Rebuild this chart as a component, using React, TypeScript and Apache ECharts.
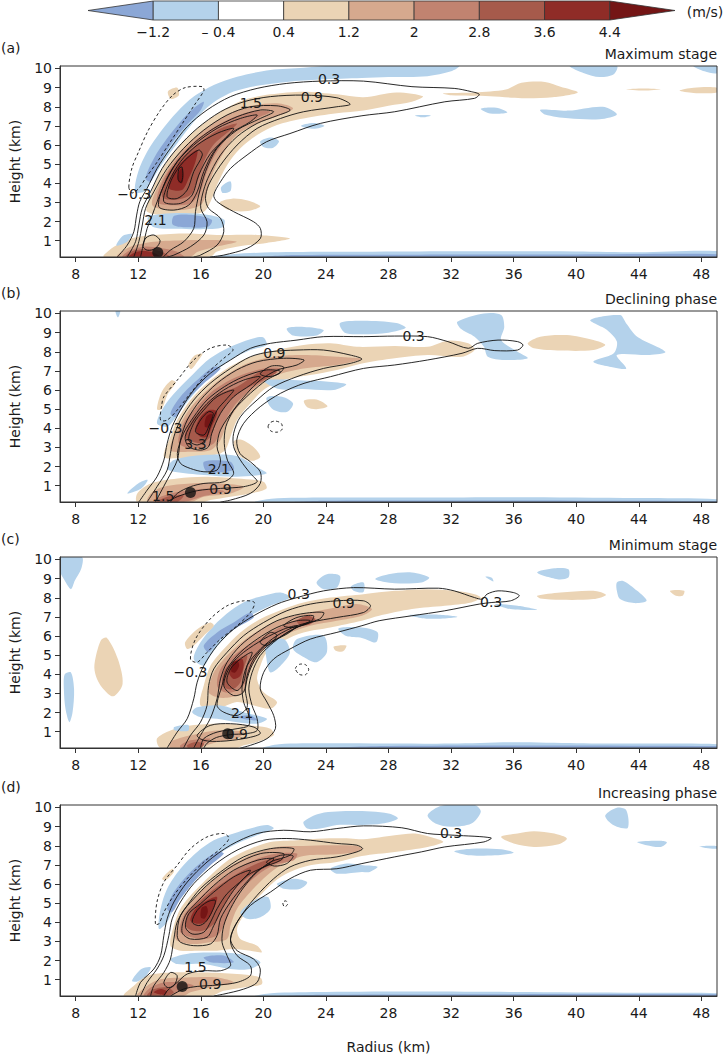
import * as echarts from 'echarts';
import React, { useEffect, useRef } from 'react';

type Pt = [number, number];
type Fill = [number, Pt[]];          // shading level, outline
type Contour = [number, boolean, Pt[]]; // contour value, closed?, path
type Label = [number, number, string];

// axes
const xTicks = [8, 12, 16, 20, 24, 28, 32, 36, 40, 44, 48];
const yTicks = [1, 2, 3, 4, 5, 6, 7, 8, 9, 10];
const panelTags = ['(a)', '(b)', '(c)', '(d)'];
const panelTitles = ['Maximum stage', 'Declining phase', 'Minimum stage', 'Increasing phase'];

// colour bar (m/s)
const colorTicks = [-1.2, -0.4, 0.4, 1.2, 2, 2.8, 3.6, 4.4];
const colorTickLabels = ['−1.2', '– 0.4', '0.4', '1.2', '2', '2.8', '3.6', '4.4'];
const shadeLevels = [-2, -1, 0, 1, 2, 3, 4, 5, 6];
const shadeColors = ['#8ba7d6', '#b4d2eb', '#ffffff', '#ebd4b5', '#d6a98e', '#c18370', '#a65a4b', '#8f2c27', '#741515'];
const barEnds = [-2, 5.2];

// ---------- (a) Maximum stage ----------
const fillsA: Fill[] = [
  [1, [[12.57,2.52],[12.79,3.39],[13.43,4.61],[14.49,5.83],[15.77,6.87],[17.26,7.74],[18.74,8.35],[20.45,8.65],[22.57,8.79],[24.7,8.65],[26.4,8.5],[28.5,8.75],[30.2,8.55],[29.5,8.26],[28,8.05],[26.4,7.8],[24.7,7.66],[22.57,7.39],[20.87,7.05],[19.6,6.52],[18.53,5.83],[17.68,4.95],[17.04,3.91],[16.62,3.04],[16.19,2.52],[14.49,2.34]]],
  [2, [[12.9,2.86],[13.43,4.08],[14.49,5.48],[15.77,6.52],[17.26,7.39],[18.96,8.0],[20.87,8.18],[21.9,7.92],[21.1,7.57],[19.6,7.13],[18.3,6.52],[17.5,5.65],[16.8,4.61],[16.4,3.56],[15.98,2.86],[14.5,2.6]]],
  [3, [[13.2,3.04],[13.64,4.26],[14.7,5.48],[15.98,6.44],[17.47,7.22],[19.17,7.74],[20.45,7.74],[19.6,7.39],[18.1,6.7],[17.04,5.65],[16.4,4.61],[15.98,3.56],[15.34,2.95],[14.06,2.86]]],
  [4, [[13.53,3.3],[13.85,4.43],[14.7,5.3],[15.98,6.17],[17.26,6.87],[18.32,7.13],[17.9,6.78],[16.8,6.0],[16.2,5.13],[15.77,4.08],[15.34,3.39],[14.28,3.13]]],
  [5, [[13.96,3.74],[14.28,4.61],[15.0,5.3],[15.77,5.74],[15.66,5.13],[15.23,4.26],[14.8,3.65]]],
  [6, [[14.55,4.1],[14.6,4.6],[14.8,4.8],[14.9,4.4],[14.8,4.0]]],
  [1, [[9.8,0.15],[9.8,0.25],[10.45,0.69],[11.5,1.12],[13.0,1.3],[15.13,1.38],[17.26,1.3],[19.6,1.3],[21.7,1.12],[20.0,0.86],[18.3,0.69],[17.0,0.43],[16.6,0.15]]],
  [2, [[10.66,0.15],[10.66,0.25],[11.5,0.69],[13.0,0.95],[15.1,1.03],[17.26,1.03],[18.3,0.95],[17.0,0.69],[15.8,0.43],[15.3,0.15]]],
  [3, [[11.0,0.15],[11.5,0.51],[12.36,0.69],[13.6,0.6],[14.5,0.43],[14.9,0.15]]],
  [4, [[11.2,0.15],[11.6,0.45],[12.4,0.55],[13.4,0.45],[14.0,0.15]]],
  [5, [[11.4,0.15],[11.9,0.43],[12.8,0.43],[13.4,0.15]]],
  [-1, [[11.8,3.56],[12.0,4.6],[12.57,5.65],[13.43,6.7],[14.5,7.74],[15.55,8.53],[16.83,9.14],[18.32,9.57],[20.45,9.92],[22.57,10.04],[24,10.13],[32.5,10.13],[32,9.85],[30.5,9.6],[28,9.55],[26.3,9.5],[23.64,9.42],[21.5,9.3],[19.6,9.1],[18.1,8.8],[17.04,8.35],[16.2,7.8],[15.34,7.0],[14.5,6.1],[13.6,5.1],[12.9,4.2],[12.36,3.56]]],
  [-2, [[12.47,4.26],[13.0,5.3],[13.85,6.35],[14.7,7.22],[15.55,7.92],[16.19,8.26],[16.0,7.83],[15.0,6.96],[14.06,6.0],[13.32,4.95],[12.79,4.08]]],
  [-1, [[12.6,2.2],[13.5,2.4],[15.0,2.45],[16.5,2.35],[17.5,2.1],[17.4,1.7],[16,1.6],[14.5,1.62],[13,1.7]]],
  [-2, [[14.3,2.3],[15.5,2.35],[16.7,2.1],[16.5,1.75],[15,1.7],[14.2,1.85]]],
  [-1, [[10.6,0.75],[11.0,1.25],[11.6,1.35],[11.3,0.95]]],
  [-1, [[17.3,3.8],[17.9,4.1],[17.9,3.6],[17.4,3.5]]],
  [-1, [[19.8,6.2],[20.5,6.4],[21.0,6.2],[20.6,5.85],[20.0,5.9]]],
  [-1, [[22.4,7.0],[23.2,7.15],[23.9,7.0],[23.2,6.85]]],
  [1, [[17.2,3.0],[18.0,3.2],[19.0,3.1],[19.8,2.8],[19.0,2.55],[17.8,2.6]]],
  [1, [[13.9,8.8],[14.5,9.0],[14.6,8.6],[14.1,8.4]]],
  [-1, [[16.5,0.15],[18,0.3],[20,0.38],[24,0.42],[30,0.44],[40,0.44],[44,0.4],[49,0.46],[49,0.15]]],
  [-2, [[20,0.15],[22,0.25],[30,0.27],[40,0.28],[49,0.3],[49,0.15]]],
  [1, [[31.5,8.7],[33.5,8.75],[35.5,8.9],[36.5,9.25],[38,9.3],[39,9.05],[40.1,8.75],[38.5,8.5],[36.5,8.45],[34.5,8.55],[32,8.6]]],
  [1, [[43.2,8.92],[44.3,8.96],[45.4,8.92],[44.3,8.85]]],
  [1, [[46.6,8.85],[47.5,9.0],[49,9.0],[49,8.75],[47.5,8.72]]],
  [-1, [[39.6,10.13],[42.6,10.13],[42.4,9.7],[41.5,9.55],[40.5,9.75]]],
  [-1, [[47.5,10.13],[49,10.13],[49,9.75],[48.2,9.85]]],
  [-1, [[33.9,7.9],[34.9,7.95],[35.6,7.7],[34.5,7.65]]],
  [-1, [[37.7,7.85],[39.5,7.8],[41.7,8.0],[42.6,7.6],[41.5,7.35],[39.5,7.4],[38,7.6]]],
  [-1, [[29.7,7.55],[30.7,7.55],[30.2,7.45]]],
];
const linesA: Contour[] = [
  [0.3, false, [[10.66,0.15],[11.3,0.77],[11.72,1.47],[11.9,2.34],[12.1,3.04],[12.57,3.74],[13.21,4.78],[14.06,5.83],[15.13,6.96],[16.4,7.83],[17.9,8.53],[19.6,8.96],[21.5,9.22],[23.64,9.34],[26.4,9.34],[29.5,9.05],[32.2,8.96],[33.3,8.79],[33.8,8.65],[33.5,8.44],[31.6,8.26],[28.4,7.74],[26.3,7.53],[23.64,7.13],[21.7,6.6],[20.2,6.17],[18.96,5.48],[17.9,4.78],[17.26,4.08],[16.83,3.39],[17.04,3.04],[18.1,2.52],[19.38,1.99],[19.81,1.64],[19.81,1.12],[18.96,0.6],[17.47,0.25],[16.6,0.15]]],
  [0.9, false, [[11.3,0.15],[11.83,0.95],[12.04,1.82],[12.26,2.69],[12.79,3.56],[13.53,4.78],[14.49,5.83],[15.77,6.87],[17.26,7.74],[18.74,8.26],[20.45,8.53],[22.57,8.61],[24.7,8.47],[25.55,8.13],[24.7,8.0],[22.57,7.74],[21.1,7.39],[19.6,6.87],[18.32,6.0],[17.26,4.95],[16.5,3.91],[16.3,3.21],[16.5,2.69],[17.26,2.17],[17.47,1.47],[17.04,0.77],[15.98,0.25],[15.55,0.15]]],
  [1.5, false, [[11.72,0.15],[12.04,0.95],[12.26,1.82],[12.47,2.69],[13.0,3.56],[13.85,4.78],[14.91,5.83],[16.19,6.78],[17.68,7.57],[19.17,8.0],[20.87,8.05],[21.72,7.83],[20.87,7.53],[19.6,7.13],[18.32,6.44],[17.26,5.48],[16.45,4.26],[16.1,3.39],[16.0,2.69],[16.4,1.99],[16.2,1.3],[15.34,0.69],[14.28,0.25],[13.85,0.15]]],
  [2.1, false, [[12.15,0.15],[12.32,0.77],[12.57,1.64],[12.9,2.34],[13.21,3.04],[13.75,4.08],[14.49,5.13],[15.55,6.09],[16.83,6.87],[18.32,7.48],[19.81,7.83],[20.66,7.74],[19.81,7.39],[18.32,6.78],[17.04,5.83],[16.3,4.61],[15.87,3.39],[15.66,2.52],[15.55,1.64],[14.91,0.95],[14.06,0.51],[13.6,0.15]]],
  [2.7, true, [[13.32,2.78],[13.64,3.91],[14.49,5.13],[15.55,6.0],[17.04,6.87],[18.53,7.39],[19.6,7.57],[19.17,7.22],[17.9,6.6],[16.83,5.65],[16.19,4.61],[15.77,3.56],[15.23,2.86],[14.28,2.6]]],
  [3.3, true, [[13.64,3.04],[13.96,4.08],[14.7,5.13],[15.77,6.0],[17.04,6.61],[18.1,6.87],[17.68,6.44],[16.62,5.56],[15.87,4.43],[15.45,3.39],[14.7,2.95]]],
  [3.9, true, [[13.85,3.3],[14.17,4.26],[14.9,5.13],[15.87,5.74],[16.1,5.48],[15.55,4.61],[15.13,3.65],[14.5,3.21]]],
  [4.5, true, [[14.55,4.2],[14.6,4.75],[14.8,4.85],[14.85,4.4],[14.75,4.05]]],
  [2.7, true, [[12.3,0.7],[12.5,1.15],[13.0,1.3],[13.4,1.0],[13.1,0.6],[12.6,0.5]]],
  [-0.3, true, [[11.4,3.8],[11.6,4.8],[12.0,5.6],[12.6,6.7],[13.4,7.8],[14.2,8.6],[15.0,9.0],[16.1,9.05],[16.2,8.85],[15.6,8.1],[14.8,7.1],[14.0,6.1],[13.2,5.1],[12.5,4.3],[12.0,3.7],[11.6,3.5]]],
];
const labelsA: Label[] = [[24.2,9.45,'0.3'],[23.1,8.53,'0.9'],[19.2,8.18,'1.5'],[13.1,2.08,'2.1'],[11.75,3.42,'−0.3']];
const dotA: Pt = [13.25, 0.38];

// ---------- (b) Declining phase ----------
const fillsB: Fill[] = [
  [1, [[13.64,2.52],[14.06,3.56],[14.49,4.43],[15.34,5.48],[16.4,6.35],[17.68,7.13],[19.17,7.74],[20.87,8.09],[22.57,8.35],[24.28,8.44],[25.98,8.26],[28.4,8.3],[30.5,8.26],[31.8,8.58],[33.1,8.44],[33.5,8.09],[32.7,7.74],[30.5,7.83],[28.4,7.66],[26.3,7.39],[24.7,7.05],[23.0,6.78],[21.3,6.52],[20.0,6.0],[19.17,5.3],[18.32,4.43],[17.9,3.56],[17.6,2.9],[17.26,2.69],[16.2,2.52],[14.5,2.43]]],
  [2, [[14.06,2.86],[14.49,3.91],[15.23,4.95],[16.19,5.83],[17.47,6.7],[18.96,7.39],[20.66,7.74],[22.57,7.83],[24.7,7.74],[26.3,7.62],[24.7,7.31],[22.57,7.13],[20.87,6.78],[19.6,6.17],[18.53,5.3],[17.68,4.26],[17.26,3.39],[16.62,2.86],[15.34,2.78]]],
  [3, [[14.6,3.21],[14.9,4.26],[15.77,5.13],[16.83,6.0],[18.32,6.7],[20.02,7.13],[21.1,7.13],[20.45,6.7],[19.17,6.0],[18.1,5.13],[17.36,4.08],[16.83,3.21],[15.77,2.95]]],
  [4, [[15.0,3.56],[15.45,4.43],[16.19,5.13],[17.26,5.83],[18.32,6.17],[20.02,7.05],[20.87,6.96],[20.02,6.52],[18.74,6.0],[17.68,5.3],[17.04,4.43],[16.62,3.56],[15.98,3.21]]],
  [5, [[15.66,3.91],[15.98,4.6],[16.5,4.95],[17.04,4.87],[16.7,4.08],[16.4,3.56],[15.98,3.56]]],
  [6, [[16.25,4.1],[16.35,4.6],[16.7,4.75],[16.75,4.4],[16.5,4.05]]],
  [1, [[11.94,0.15],[11.94,0.6],[12.8,1.12],[14.5,1.38],[16.2,1.47],[18.32,1.38],[20.0,1.21],[20.2,0.86],[19.17,0.6],[17.9,0.43],[16.6,0.25],[16.2,0.15]]],
  [2, [[12.6,0.15],[12.8,0.6],[13.64,0.95],[15.34,1.12],[17.26,1.12],[18.74,0.95],[17.9,0.6],[16.19,0.43],[15.34,0.15]]],
  [3, [[13.0,0.15],[13.0,0.27],[14.06,0.6],[15.34,0.77],[16.6,0.86],[17.5,0.7],[16.2,0.46],[14.9,0.15]]],
  [4, [[13.2,0.15],[13.85,0.43],[14.9,0.5],[14.5,0.15]]],
  [-1, [[13.2,4.26],[13.64,5.13],[14.5,6.0],[15.55,6.87],[16.6,7.66],[17.9,8.26],[19.17,8.66],[20.0,8.75],[20.2,8.35],[19.17,8.09],[17.9,7.57],[16.8,6.87],[15.77,6.0],[14.9,5.13],[14.28,4.43],[13.85,4.08]]],
  [-2, [[14.06,4.78],[14.7,5.65],[15.77,6.52],[16.83,7.22],[17.26,7.13],[16.2,6.35],[15.13,5.48],[14.4,4.6]]],
  [-1, [[21.5,9.22],[22.6,9.3],[23.85,9.14],[23.4,8.85],[21.9,8.85]]],
  [-1, [[24.9,9.5],[26.4,9.62],[28.5,9.5],[29.1,9.25],[28,9.0],[26.3,8.92],[25.2,9.0]]],
  [-1, [[32.4,9.57],[34.1,10.0],[35.2,9.92],[35.4,9.3],[35.2,8.61],[36.25,8.0],[36.9,7.66],[35.4,7.57],[34.35,7.74],[34.1,8.26],[33.5,8.79],[32.6,9.22]]],
  [-1, [[40.9,9.66],[42.8,9.92],[43.2,9.48],[43.9,8.79],[45.7,8.0],[44.7,7.83],[42.6,7.83],[43.2,7.13],[42.4,7.18],[41.1,7.48],[42.4,7.92],[42.6,8.53],[41.97,9.14]]],
  [1, [[36.9,8.44],[37.7,8.79],[39.4,8.87],[41.1,8.61],[41.86,8.35],[41.1,8.09],[39.0,8.06],[37.3,8.18]]],
  [-1, [[10.55,10.13],[10.85,10.13],[10.7,9.8]]],
  [1, [[13.2,5.0],[13.5,5.9],[14.1,6.5],[14.4,6.4],[13.9,5.8],[13.5,5.0]]],
  [1, [[15.2,7.3],[15.6,7.8],[16.1,7.9],[15.8,7.5],[15.4,7.1]]],
  [-1, [[20.0,6.5],[21.3,6.55],[22.5,6.5],[24,6.45],[25.3,6.3],[24.5,6.0],[22.5,6.05],[21.0,6.05]]],
  [-1, [[20.2,5.6],[21.2,5.65],[21.9,5.3],[21.5,4.85],[20.6,5.0]]],
  [1, [[22.6,5.45],[23.4,5.5],[24.1,5.15],[23.4,5.0],[22.8,5.1]]],
  [-1, [[13.85,1.9],[14.28,2.34],[16.2,2.6],[18.3,2.55],[19.5,2.0],[20.2,1.64],[18.3,1.47],[16.2,1.56],[14.28,1.73]]],
  [-2, [[16.2,2.25],[17.9,2.25],[18.1,1.82],[16.4,1.73]]],
  [1, [[18.1,3.3],[18.6,3.4],[19.4,3.0],[19.8,2.5],[19.2,2.3],[18.4,2.6]]],
  [-1, [[11.3,0.6],[12.0,1.12],[12.6,1.3],[12.2,0.86]]],
  [-1, [[19.5,0.15],[20.5,0.32],[24,0.38],[30,0.38],[36,0.4],[44,0.36],[49,0.3],[49,0.15]]],
  [-2, [[22,0.15],[24,0.22],[40,0.22],[49,0.2],[49,0.15]]],
];
const linesB: Contour[] = [
  [0.3, false, [[12.04,0.15],[12.57,0.77],[13.2,1.47],[13.64,2.34],[13.85,3.21],[14.17,4.08],[14.7,4.95],[15.55,6.0],[16.6,6.87],[17.9,7.57],[19.17,8.18],[20.45,8.44],[22.15,8.61],[23.85,8.79],[26.4,8.79],[28.4,8.82],[30.5,8.79],[31.8,8.53],[33.1,8.18],[33.7,8.44],[35.0,8.61],[36.25,8.53],[36.6,8.35],[36.25,8.09],[34.8,8.06],[33.7,8.18],[32.7,7.92],[30.5,7.57],[28.4,7.31],[26.4,7.13],[24.3,6.7],[22.6,6.35],[21.1,5.83],[19.8,5.13],[18.74,4.26],[18.3,3.39],[18.5,2.69],[19.17,2.25],[19.8,1.73],[19.8,1.12],[19.17,0.6],[17.9,0.25],[17.26,0.15]]],
  [0.9, false, [[12.57,0.15],[13.2,0.95],[13.85,1.82],[14.06,2.69],[14.28,3.56],[14.7,4.43],[15.55,5.48],[16.6,6.35],[17.9,7.13],[19.17,7.74],[20.45,8.0],[22.15,8.09],[23.85,8.09],[25.55,7.83],[26.3,7.62],[25.55,7.39],[23.85,7.13],[22.15,6.7],[20.66,6.17],[19.6,5.48],[18.53,4.6],[18.1,3.74],[18.1,3.04],[18.53,2.34],[19.17,1.64],[19.6,1.21],[18.74,0.95],[17.26,0.86],[15.77,0.74],[14.5,0.43],[13.85,0.15]]],
  [1.5, false, [[13.1,0.15],[13.85,1.3],[14.5,2.34],[14.7,3.39],[15.13,4.43],[15.98,5.48],[17.04,6.35],[18.3,7.05],[19.6,7.48],[21.3,7.66],[22.6,7.57],[22.15,7.31],[20.9,7.05],[19.8,6.52],[18.96,5.83],[18.1,4.95],[17.6,4.08],[17.5,3.21],[17.7,2.34],[18.1,1.64],[17.5,1.21],[16.2,1.12],[15.34,0.95],[14.5,0.6],[14.06,0.15]]],
  [2.1, true, [[14.5,2.69],[14.9,3.74],[15.55,4.6],[16.4,5.48],[17.5,6.17],[18.74,6.7],[20.2,7.05],[21.1,6.96],[20.2,6.52],[19.17,5.83],[18.1,4.95],[17.26,3.91],[17.04,3.04],[17.26,2.34],[17.04,1.82],[16.2,1.73],[15.34,1.9],[14.7,2.17]]],
  [2.7, true, [[15.0,3.56],[15.55,4.43],[16.4,5.3],[17.47,6.0],[18.74,6.52],[19.8,6.7],[19.17,6.26],[18.1,5.65],[17.26,4.78],[16.7,3.74],[16.5,3.04],[15.98,2.86],[15.23,3.04]]],
  [3.3, true, [[15.23,3.39],[15.55,4.26],[16.19,4.95],[17.04,5.65],[18.1,6.0],[17.68,5.56],[17.04,4.95],[16.6,4.08],[16.3,3.39],[15.77,3.13]]],
  [3.9, true, [[15.66,3.82],[15.98,4.43],[16.5,4.87],[16.8,4.78],[16.5,4.08],[16.2,3.65]]],
  [2.7, true, [[19.8,6.85],[20.5,7.25],[21.3,7.2],[21.0,6.85],[20.3,6.7]]],
  [-0.3, true, [[13.43,4.43],[13.5,5.2],[13.64,5.65],[14.5,6.52],[15.55,7.57],[16.6,8.18],[17.68,8.35],[18.06,8.09],[17.47,7.66],[16.4,6.87],[15.34,5.83],[14.49,4.95],[13.85,4.43]]],
  [-0.3, true, [[20.3,4.08],[20.45,4.3],[20.77,4.38],[21.15,4.25],[21.2,3.95],[20.9,3.8],[20.5,3.85]]],
];
const labelsB: Label[] = [[13.74,4.0,'−0.3'],[15.66,3.18,'3.3'],[17.15,1.9,'2.1'],[17.26,0.83,'0.9'],[13.6,0.48,'1.5'],[20.7,7.95,'0.9'],[29.6,8.84,'0.3']];
const dotB: Pt = [15.34, 0.65];

// ---------- (c) Minimum stage ----------
const fillsC: Fill[] = [
  [1, [[15.98,2.37],[16.19,3.41],[16.62,4.45],[17.47,5.32],[18.53,6.19],[19.81,6.89],[21.3,7.41],[22.57,7.75],[24.28,8.01],[26.4,8.19],[28.4,8.36],[30.5,8.45],[32.2,8.36],[33.5,8.19],[33.9,8.01],[33.3,7.75],[31.6,7.58],[29.5,7.41],[27.4,7.06],[26.3,6.8],[24.28,6.45],[22.57,6.19],[21.3,5.76],[20.23,5.15],[19.81,4.45],[19.6,3.76],[20.0,3.07],[20.87,2.55],[20.45,2.2],[19.4,2.37],[18.3,2.55],[17.04,2.2]]],
  [2, [[16.5,3.07],[16.83,4.1],[17.68,4.98],[18.74,5.76],[20.02,6.45],[21.5,6.97],[23.0,7.23],[24.7,7.5],[25.98,7.67],[26.94,7.41],[26.3,7.06],[24.7,6.8],[23.0,6.54],[21.5,6.1],[20.23,5.5],[19.38,4.63],[18.96,3.76],[18.74,3.07],[17.9,2.8],[17.04,2.8]]],
  [3, [[17.04,3.41],[17.26,4.28],[18.1,4.98],[19.17,5.58],[20.45,6.19],[21.7,6.71],[23.0,7.06],[23.4,6.8],[22.15,6.45],[20.87,5.84],[19.81,5.15],[19.17,4.28],[18.74,3.41],[18.1,3.07],[17.47,3.07]]],
  [4, [[17.36,3.59],[17.57,4.28],[18.32,4.8],[18.96,4.98],[18.74,4.28],[18.53,3.59],[18.1,3.24],[17.68,3.24]]],
  [4, [[22.15,6.8],[22.8,7.06],[23.3,6.89],[23.0,6.62],[22.36,6.57]]],
  [5, [[17.8,4.1],[18.1,4.63],[18.64,4.8],[18.74,4.45],[18.53,3.93],[18.1,3.76]]],
  [6, [[17.95,4.15],[18.05,4.6],[18.35,4.7],[18.45,4.45],[18.2,4.1]]],
  [1, [[13.43,0.15],[13.2,0.64],[14.06,1.07],[15.34,1.33],[17.26,1.42],[19.17,1.33],[20.45,1.16],[20.66,0.81],[19.6,0.46],[18.74,0.29],[18.32,0.15]]],
  [2, [[14.06,0.15],[14.06,0.46],[15.34,0.81],[17.04,1.07],[18.74,0.98],[18.32,0.64],[17.04,0.46],[15.77,0.15]]],
  [3, [[14.7,0.15],[14.7,0.29],[15.34,0.55],[16.6,0.64],[16.2,0.38],[15.55,0.15]]],
  [4, [[15.13,0.29],[15.66,0.46],[16.2,0.38],[15.98,0.15],[15.2,0.15]]],
  [-1, [[15.55,4.8],[15.98,5.67],[16.83,6.54],[17.9,7.32],[18.96,7.84],[20.02,8.1],[21.1,8.27],[21.7,8.01],[20.45,7.58],[19.17,7.06],[18.1,6.36],[17.26,5.67],[16.62,4.98],[16.19,4.45]]],
  [-2, [[16.19,5.5],[17.04,6.19],[18.1,6.71],[19.17,7.23],[19.38,6.97],[18.32,6.45],[17.26,5.84],[16.5,5.15]]],
  [-1, [[23.4,8.8],[24.06,9.23],[24.9,9.14],[24.7,8.53],[23.85,8.45]]],
  [-1, [[25.6,8.6],[26.4,8.8],[26.4,8.3],[25.8,8.35]]],
  [-1, [[27.15,8.97],[28.0,9.23],[29.5,9.32],[30.6,9.06],[30.1,8.8],[28.4,8.76]]],
  [-1, [[37.5,9.32],[38.6,9.54],[39.5,9.49],[39.5,9.06],[38.8,8.97]]],
  [-1, [[34.2,9.1],[34.6,9.05],[34.7,8.85]]],
  [-1, [[42.6,8.8],[43.0,8.88],[43.9,8.36],[44.5,7.84],[43.7,7.72],[42.8,7.93],[42.6,8.36]]],
  [1, [[37.5,8.1],[39.0,8.27],[41.1,8.36],[41.9,8.15],[41.1,7.93],[39.0,7.89],[37.7,7.96]]],
  [1, [[46.0,8.36],[46.9,8.36],[46.8,8.1],[46.3,8.13]]],
  [-1, [[34.8,7.67],[36.25,7.58],[37.5,7.37],[35.8,7.41]]],
  [-1, [[29.3,7.1],[31,7.12],[32.4,7.0],[30.5,6.9]]],
  [-1, [[24.8,6.4],[26.3,6.45],[27.3,6.2],[27.2,5.67],[26.3,5.9],[25.3,6.0]]],
  [-1, [[7.0,10.13],[8.4,10.13],[8.35,9.5],[7.95,8.9],[7.7,8.45],[7.3,8.9],[7.0,9.4]]],
  [-1, [[7.3,4.0],[7.7,4.1],[7.9,3.2],[7.8,2.0],[7.6,1.5],[7.35,2.2],[7.25,3.2]]],
  [1, [[9.2,4.5],[9.6,5.75],[10.0,5.9],[10.7,4.8],[11.0,3.5],[10.4,2.85],[9.7,3.3],[9.3,3.9]]],
  [1, [[15.0,5.67],[15.77,6.36],[16.6,6.71],[16.83,6.54],[16.19,6.02],[15.55,5.5],[15.13,5.32]]],
  [-1, [[15.77,2.28],[17.26,2.37],[18.74,2.02],[20.23,1.68],[19.6,1.42],[18.32,1.5],[17.04,1.68],[15.98,1.76],[15.45,2.02]]],
  [-2, [[18.3,1.76],[19.2,1.85],[19.6,1.59]]],
  [-1, [[20.2,5.67],[21.3,5.84],[21.7,5.15],[21.1,4.45],[20.45,4.1],[20.2,4.8]]],
  [-1, [[22.15,5.84],[23.85,6.02],[24.06,5.15],[23.4,4.63],[22.6,4.89],[21.9,5.32]]],
  [1, [[24.5,5.45],[25.3,5.5],[25.1,5.2],[24.6,5.25]]],
  [-1, [[14.3,1.25],[15.2,1.35],[15.2,1.05],[14.3,1.08]]],
  [-1, [[20,0.15],[21,0.35],[24,0.4],[32,0.38],[36,0.45],[40,0.4],[44,0.38],[49,0.35],[49,0.15]]],
  [-2, [[24,0.15],[28,0.26],[49,0.25],[49,0.15]]],
];
const linesC: Contour[] = [
  [0.3, false, [[13.85,0.15],[14.49,0.98],[15.13,1.68],[15.55,2.72],[15.77,3.59],[16.19,4.45],[17.04,5.5],[18.1,6.36],[19.38,7.06],[20.87,7.67],[22.15,8.01],[23.85,8.36],[25.77,8.53],[28.4,8.45],[31.2,8.5],[32.2,8.36],[33.5,8.01],[34.0,7.93],[34.3,8.19],[35.0,8.36],[36.0,8.27],[36.36,8.1],[35.8,7.84],[34.56,7.75],[33.8,7.67],[31.6,7.32],[29.5,7.06],[27.4,6.8],[26.3,6.54],[24.7,6.19],[23.0,5.84],[21.7,5.32],[20.66,4.8],[20.02,4.1],[19.8,3.24],[20.23,2.55],[20.66,1.85],[20.77,1.16],[20.23,0.64],[19.17,0.29],[18.53,0.15]]],
  [0.9, false, [[14.9,0.15],[15.34,0.81],[15.98,1.5],[16.4,2.37],[16.5,3.41],[16.83,4.28],[17.68,5.15],[18.74,6.02],[20.02,6.71],[21.5,7.32],[23.0,7.67],[24.7,7.84],[26.4,7.84],[26.85,7.58],[26.4,7.23],[24.7,6.97],[23.0,6.71],[21.7,6.28],[20.66,5.67],[19.8,4.98],[19.28,4.1],[19.07,3.24],[19.28,2.37],[19.6,1.68],[19.6,1.07],[18.9,0.9],[17.9,0.85],[17.0,0.7],[16.4,0.4],[16.2,0.15]]],
  [1.5, false, [[15.55,0.15],[15.98,0.81],[16.6,1.68],[17.04,2.72],[17.26,3.76],[17.68,4.63],[18.53,5.5],[19.6,6.19],[20.87,6.8],[22.36,7.15],[23.85,7.23],[23.6,6.89],[22.15,6.54],[20.87,6.02],[19.81,5.32],[18.96,4.45],[18.64,3.41],[18.74,2.54],[19.07,1.85],[19.07,1.33],[18.32,1.16],[17.04,0.98],[16.19,0.64],[15.98,0.15]]],
  [2.1, true, [[17.04,2.37],[17.36,3.41],[17.68,4.28],[18.53,5.15],[19.6,5.84],[20.87,6.45],[22.15,6.8],[23.0,6.8],[22.15,6.45],[20.87,5.84],[19.81,5.15],[19.17,4.28],[18.85,3.24],[18.96,2.28],[18.32,1.85],[17.47,2.02]]],
  [2.7, true, [[17.47,3.41],[17.9,4.45],[18.74,5.15],[20.02,5.84],[21.3,6.36],[22.15,6.54],[21.5,6.1],[20.23,5.58],[19.38,4.8],[18.96,3.93],[18.74,3.07],[18.1,2.89]]],
  [3.3, true, [[17.68,3.59],[17.9,4.28],[18.53,4.8],[19.28,5.15],[18.96,4.45],[18.74,3.59],[18.32,3.15]]],
  [2.7, true, [[21.3,6.54],[22.15,6.97],[23.2,7.06],[23.0,6.71],[21.9,6.45]]],
  [2.7, true, [[19.8,5.67],[20.45,6.19],[20.87,6.02],[20.23,5.5]]],
  [1.5, true, [[15.77,0.81],[16.6,1.33],[17.9,1.42],[19.4,1.24],[19.8,0.9],[18.74,0.64],[17.26,0.5],[16.2,0.55]]],
  [-0.3, true, [[15.34,4.8],[15.66,5.84],[16.6,6.89],[17.68,7.58],[18.74,7.84],[19.43,7.75],[19.17,7.23],[18.32,6.54],[17.26,5.84],[16.4,5.15],[15.77,4.63]]],
  [-0.3, true, [[22.05,4.3],[22.3,4.52],[22.7,4.5],[22.9,4.25],[22.7,3.98],[22.3,4.0]]],
];
const labelsC: Label[] = [[15.34,4.1,'−0.3'],[22.26,8.19,'0.3'],[25.13,7.72,'0.9'],[34.56,7.79,'0.3'],[18.64,1.99,'2.1'],[18.3,0.9,'0.9']];
const dotC: Pt = [17.72, 0.9];

// ---------- (d) Increasing phase ----------
const fillsD: Fill[] = [
  [1, [[14.06,2.78],[14.28,3.83],[14.7,4.71],[15.55,5.58],[16.62,6.45],[17.9,7.33],[19.17,7.85],[20.45,8.2],[22.15,8.29],[23.85,8.38],[25.55,8.38],[26.4,8.34],[28.4,8.55],[29.7,8.64],[31.0,8.38],[31.5,8.2],[30.5,7.94],[28.4,7.68],[26.3,7.47],[24.7,7.15],[23.0,6.98],[21.7,6.63],[20.66,6.1],[19.6,5.23],[18.74,4.36],[18.32,3.66],[18.53,3.13],[19.6,2.78],[19.9,2.43],[19.17,2.52],[18.1,2.61],[17.04,2.52],[15.77,2.52],[14.7,2.52]]],
  [2, [[14.38,3.13],[14.6,4.18],[15.34,5.06],[16.4,5.93],[17.68,6.8],[19.17,7.5],[20.87,7.94],[22.57,7.99],[24.28,8.03],[25.98,7.99],[26.3,7.85],[25.98,7.68],[24.28,7.54],[22.57,7.47],[21.3,7.07],[20.23,6.45],[19.17,5.58],[18.32,4.71],[17.9,3.83],[17.68,3.13],[16.62,2.96],[15.34,2.87]]],
  [3, [[14.7,3.48],[14.91,4.36],[15.66,5.06],[16.7,5.84],[17.98,6.63],[19.38,7.24],[20.87,7.59],[22.15,7.59],[21.94,7.24],[20.66,6.98],[19.6,6.45],[18.6,5.67],[17.9,4.71],[17.47,3.83],[17.04,3.31],[16.0,3.13]]],
  [4, [[15.02,3.83],[15.23,4.53],[15.98,5.14],[17.04,5.84],[18.32,6.54],[19.6,7.07],[20.66,7.33],[21.3,7.29],[20.45,6.98],[19.17,6.45],[18.1,5.67],[17.36,4.71],[16.93,4.01],[16.19,3.57],[15.45,3.57]]],
  [5, [[15.34,4.1],[15.66,4.71],[16.4,5.14],[17.04,5.32],[16.83,4.71],[16.4,4.1],[15.87,3.92]]],
  [6, [[16.0,4.25],[16.05,4.75],[16.35,4.85],[16.45,4.55],[16.25,4.2]]],
  [1, [[11.1,0.15],[11.72,0.69],[12.57,1.21],[14.06,1.38],[16.19,1.38],[18.32,1.3],[19.81,1.12],[19.9,0.77],[18.74,0.6],[17.47,0.42],[16.62,0.15]]],
  [2, [[11.94,0.15],[12.57,0.69],[13.43,1.03],[15.13,1.12],[17.04,1.12],[18.1,0.86],[16.62,0.6],[15.34,0.34],[14.91,0.15]]],
  [3, [[12.36,0.15],[12.79,0.6],[13.64,0.86],[14.7,0.86],[15.55,0.69],[14.7,0.42],[14.06,0.15]]],
  [4, [[12.57,0.15],[13.0,0.51],[13.85,0.6],[14.28,0.34],[13.85,0.15]]],
  [5, [[13.0,0.34],[13.43,0.51],[13.85,0.37],[13.64,0.2]]],
  [-1, [[13.32,3.66],[13.43,4.71],[13.85,5.76],[14.7,6.8],[15.77,7.68],[16.83,8.29],[18.1,8.64],[19.17,8.9],[20.23,9.08],[20.66,8.9],[19.6,8.55],[18.32,8.12],[17.04,7.5],[15.98,6.63],[15.02,5.58],[14.28,4.71],[13.85,4.01]]],
  [-2, [[13.85,4.71],[14.28,5.58],[15.13,6.45],[16.19,7.24],[17.04,7.68],[17.47,7.59],[16.62,6.98],[15.55,6.1],[14.7,5.23],[14.17,4.53]]],
  [-1, [[22.57,9.25],[23.64,9.69],[25.77,9.81],[28.0,9.69],[28.6,9.43],[27.6,9.16],[26.3,9.08],[24.7,9.08],[23.64,8.9],[22.8,8.9]]],
  [-1, [[30.5,9.6],[31.4,10.09],[33.5,10.13],[33.9,9.78],[33.3,9.16],[32.0,8.99],[31.0,9.16]]],
  [-1, [[41.86,9.6],[42.6,9.99],[43.2,9.86],[43.3,8.94],[42.6,8.99],[42.1,9.25]]],
  [-1, [[32.2,7.71],[33.3,7.85],[35.2,7.82],[36.0,7.64],[34.8,7.5],[33.1,7.5]]],
  [-1, [[43.9,8.2],[45.4,8.26],[45.8,8.17],[45.4,7.94],[44.5,8.03]]],
  [-1, [[47.9,7.97],[49,7.99],[49,7.85],[48.3,7.88]]],
  [-1, [[24.28,6.8],[25.34,7.07],[26.4,6.98],[27.3,6.9],[26.8,6.63],[26.3,6.63],[24.7,6.54]]],
  [-1, [[20.87,6.02],[21.94,6.28],[22.8,6.1],[22.36,5.76],[21.3,5.76]]],
  [-1, [[18.53,4.53],[19.6,5.23],[20.3,5.32],[20.45,4.71],[19.81,4.27],[18.96,4.18]]],
  [-1, [[14.06,2.08],[15.34,2.38],[17.04,2.42],[18.74,2.3],[19.81,1.91],[19.17,1.56],[17.9,1.56],[16.19,1.82],[14.49,1.82]]],
  [-2, [[16.19,2.17],[17.47,2.26],[18.1,1.91],[16.62,1.91]]],
  [-1, [[11.6,0.95],[12.2,1.56],[12.8,1.65],[12.5,1.2],[11.9,0.9]]],
  [1, [[13.53,6.28],[14.17,6.8],[14.28,6.63],[13.75,6.2]]],
  [1, [[35.2,8.47],[36.25,8.64],[37.3,8.76],[38.6,8.64],[39.4,8.38],[38.8,8.06],[37.3,7.94],[36.0,8.12]]],
  [-1, [[19.5,0.15],[20.5,0.3],[24,0.36],[30,0.38],[36,0.36],[44,0.32],[49,0.3],[49,0.15]]],
  [-2, [[21,0.15],[24,0.22],[49,0.24],[49,0.15]]],
];
const linesD: Contour[] = [
  [0.3, false, [[11.83,0.15],[12.15,0.86],[13.0,1.56],[13.43,2.26],[13.64,3.31],[13.85,4.18],[14.28,5.06],[15.13,6.1],[16.4,7.15],[17.9,8.03],[19.6,8.64],[21.3,8.81],[23.0,8.73],[24.7,8.9],[26.4,9.04],[28.85,8.94],[30.5,8.64],[32.2,8.55],[34.56,8.41],[34.1,8.2],[31.6,7.94],[30.1,7.68],[28.4,7.42],[26.3,7.07],[24.7,6.8],[23.0,6.72],[21.7,6.28],[20.45,5.58],[19.17,4.88],[18.32,4.01],[17.9,3.13],[18.32,2.52],[19.38,2.08],[19.8,1.56],[19.6,0.86],[18.74,0.51],[17.47,0.25],[16.83,0.15]]],
  [0.9, false, [[12.15,0.15],[12.57,0.86],[13.2,1.56],[13.64,2.26],[13.96,3.31],[14.17,4.18],[14.7,5.06],[15.55,6.02],[16.83,6.98],[18.32,7.77],[20.02,8.29],[21.5,8.38],[23.0,8.29],[24.7,8.12],[25.98,8.03],[26.35,7.85],[25.98,7.68],[24.7,7.42],[23.0,7.24],[21.7,6.89],[20.66,6.28],[19.6,5.41],[18.74,4.53],[18.1,3.66],[17.9,2.96],[18.32,2.26],[19.17,1.73],[19.17,1.21],[18.32,0.86],[17.04,0.72],[15.77,0.65],[14.9,0.51],[14.06,0.15]]],
  [1.5, false, [[12.79,0.15],[13.0,0.69],[13.64,1.38],[14.06,2.08],[14.28,3.13],[14.49,4.01],[15.13,4.88],[15.98,5.76],[17.26,6.63],[18.74,7.42],[20.45,7.85],[21.94,7.85],[21.7,7.5],[20.45,7.15],[19.38,6.45],[18.53,5.58],[17.9,4.71],[17.47,3.83],[17.36,2.96],[17.68,2.26],[17.9,1.73],[17.26,1.47],[16.19,1.47],[15.13,1.3],[14.49,0.86],[13.85,0.42],[13.64,0.15]]],
  [2.1, true, [[14.49,3.31],[14.7,4.36],[15.55,5.23],[16.62,6.1],[18.1,6.98],[19.81,7.59],[21.3,7.59],[21.1,7.24],[19.81,6.8],[18.74,5.93],[17.9,5.06],[17.26,4.18],[17.04,3.31],[16.62,2.87],[15.55,2.78],[14.7,2.96]]],
  [2.7, true, [[14.8,3.48],[15.02,4.36],[15.77,5.06],[16.83,5.93],[18.1,6.72],[19.6,7.24],[20.66,7.33],[20.23,6.98],[18.96,6.45],[18.1,5.67],[17.36,4.71],[16.83,3.83],[16.4,3.22],[15.34,3.13]]],
  [3.3, true, [[15.02,3.74],[15.23,4.45],[15.98,4.97],[16.83,5.58],[18.1,6.37],[19.17,6.72],[18.74,6.28],[17.68,5.5],[17.04,4.71],[16.62,4.01],[16.19,3.48],[15.45,3.39]]],
  [3.9, true, [[15.45,4.01],[15.77,4.62],[16.4,5.06],[16.93,5.14],[16.7,4.53],[16.3,4.01],[15.87,3.83]]],
  [3.3, true, [[20.2,7.15],[21.1,7.5],[21.9,7.47],[21.5,7.07],[20.7,6.94]]],
  [2.1, true, [[13.64,0.86],[14.06,1.38],[14.49,1.21],[14.28,0.69],[13.85,0.6]]],
  [-0.3, true, [[13.1,3.92],[13.2,5.06],[13.64,6.1],[14.49,6.98],[15.34,7.85],[16.4,8.46],[17.47,8.64],[17.8,8.38],[17.26,7.85],[16.19,7.15],[15.13,6.28],[14.28,5.41],[13.64,4.53],[13.32,3.92]]],
  [-0.3, true, [[21.3,4.85],[21.25,5.05],[21.45,5.12],[21.55,4.95],[21.4,4.82]]],
];
const labelsD: Label[] = [[15.66,1.65,'1.5'],[16.6,0.77,'0.9'],[32.0,8.69,'0.3']];
const dotD: Pt = [14.81, 0.65];

const panels = [
  { fills: fillsA, lines: linesA, labels: labelsA, dot: dotA },
  { fills: fillsB, lines: linesB, labels: labelsB, dot: dotB },
  { fills: fillsC, lines: linesC, labels: labelsC, dot: dotC },
  { fills: fillsD, lines: linesD, labels: labelsD, dot: dotD },
];

const FONT = 'DejaVu Sans, Verdana, sans-serif';
const FS = 14;
const INK = '#1a1a1a';
const TOPS = [66, 311, 557, 805];
const PANEL_H = 191;

const colorOf = (level: number) => shadeColors[shadeLevels.indexOf(level)];
const txt = (text: string, align: string) => ({
  text, fill: INK, fontSize: FS, fontFamily: FONT, align, verticalAlign: 'middle',
});

function buildOption() {
  const grid: any[] = [];
  const xAxis: any[] = [];
  const yAxis: any[] = [];
  const series: any[] = [];
  const graphic: any[] = [];

  panels.forEach((p, i) => {
    grid.push({ left: 57, right: 8, top: TOPS[i], height: PANEL_H, show: true, z: 10,
      backgroundColor: 'transparent', borderColor: '#333', borderWidth: 1 });
    xAxis.push({
      gridIndex: i, type: 'value', min: 7, max: 49, z: 10,
      axisLine: { show: true, onZero: false, lineStyle: { color: '#333' } },
      axisTick: { show: true, length: 5, customValues: xTicks, lineStyle: { color: '#333' } },
      axisLabel: { customValues: xTicks, margin: 10, fontSize: FS, color: INK, fontFamily: FONT },
      splitLine: { show: false },
      name: i === 3 ? 'Radius (km)' : '', nameLocation: 'middle', nameGap: 44,
      nameTextStyle: { fontSize: FS, color: INK, fontFamily: FONT },
    });
    yAxis.push({
      gridIndex: i, type: 'value', min: 0.15, max: 10.13, z: 10,
      axisLine: { show: true, onZero: false, lineStyle: { color: '#333' } },
      axisTick: { show: true, length: 5, customValues: yTicks, lineStyle: { color: '#333' } },
      axisLabel: { customValues: yTicks, margin: 8, fontSize: FS, color: INK, fontFamily: FONT },
      splitLine: { show: false },
      name: 'Height (km)', nameLocation: 'middle', nameGap: 38,
      nameTextStyle: { fontSize: FS, color: INK, fontFamily: FONT },
    });

    const fills = p.fills.slice().sort((a, b) => Math.abs(a[0]) - Math.abs(b[0]));
    series.push({
      type: 'custom', xAxisIndex: i, yAxisIndex: i, z: 1, clip: true, silent: true,
      data: fills.map((f) => f[1][0]),
      renderItem: (params: any, api: any) => {
        const f = fills[params.dataIndex];
        return {
          type: 'polygon',
          shape: { points: f[1].map((pt) => api.coord(pt)), smooth: 0.3 },
          style: { fill: colorOf(f[0]) },
        };
      },
    });
    series.push({
      type: 'custom', xAxisIndex: i, yAxisIndex: i, z: 3, clip: true, silent: true,
      data: p.lines.map((l) => l[2][0]),
      renderItem: (params: any, api: any) => {
        const l = p.lines[params.dataIndex];
        return {
          type: l[1] ? 'polygon' : 'polyline',
          shape: { points: l[2].map((pt) => api.coord(pt)), smooth: 0.3 },
          style: { fill: 'none', stroke: '#111', lineWidth: 0.9, lineDash: l[0] < 0 ? [3, 2.5] : null },
        };
      },
    });
    series.push({
      type: 'custom', xAxisIndex: i, yAxisIndex: i, z: 4, silent: true,
      data: p.labels.map((l) => [l[0], l[1]]),
      renderItem: (params: any, api: any) => {
        const l = p.labels[params.dataIndex];
        const c = api.coord([l[0], l[1]]);
        return { type: 'text', x: c[0], y: c[1], style: txt(l[2], 'center') };
      },
    });
    series.push({
      type: 'scatter', xAxisIndex: i, yAxisIndex: i, z: 5, silent: true,
      symbolSize: 11, itemStyle: { color: '#111' }, data: [p.dot],
    });

    graphic.push({ type: 'text', x: 1, y: TOPS[i] - 18, style: txt(panelTags[i], 'left') });
    graphic.push({ type: 'text', x: 717, y: TOPS[i] - 12, style: txt(panelTitles[i], 'right') });
  });

  // colour bar
  const bounds = [barEnds[0], ...colorTicks, barEnds[1]];
  const segs = shadeLevels.map((lv, k) => [bounds[k], bounds[k + 1], lv]);
  grid.push({ left: 88, right: 50, top: 1, height: 19 });
  xAxis.push({
    gridIndex: 4, type: 'value', min: barEnds[0], max: barEnds[1],
    axisLine: { show: false }, axisTick: { show: false }, splitLine: { show: false },
    axisLabel: {
      customValues: colorTicks, margin: 5, fontSize: FS, color: INK, fontFamily: FONT,
      formatter: (v: number) => {
        const k = colorTicks.findIndex((t) => Math.abs(t - v) < 1e-6);
        return k >= 0 ? colorTickLabels[k] : '';
      },
    },
  });
  yAxis.push({ gridIndex: 4, type: 'value', min: 0, max: 1, show: false });
  series.push({
    type: 'custom', xAxisIndex: 4, yAxisIndex: 4, silent: true,
    data: segs,
    renderItem: (params: any, api: any) => {
      const [lo, hi, lv] = segs[params.dataIndex];
      const last = segs.length - 1;
      let pts;
      if (params.dataIndex === 0) pts = [api.coord([lo, 0.5]), api.coord([hi, 1]), api.coord([hi, 0])];
      else if (params.dataIndex === last) pts = [api.coord([lo, 1]), api.coord([hi, 0.5]), api.coord([lo, 0])];
      else pts = [api.coord([lo, 1]), api.coord([hi, 1]), api.coord([hi, 0]), api.coord([lo, 0])];
      return { type: 'polygon', shape: { points: pts }, style: { fill: colorOf(lv), stroke: '#333', lineWidth: 0.8 } };
    },
  });
  graphic.push({ type: 'text', x: 705, y: 12, style: txt('(m/s)', 'center') });

  return { animation: false, backgroundColor: '#fff', grid, xAxis, yAxis, series, graphic };
}

export default function App() {
  const ref = useRef<HTMLDivElement>(null);
  useEffect(() => {
    document.body.style.margin = '0';
    if (!ref.current) return;
    const chart = echarts.init(ref.current, null, { renderer: 'svg' });
    chart.setOption(buildOption());
    return () => chart.dispose();
  }, []);
  return <div ref={ref} style={{ width: 725, height: 1061 }} />;
}
